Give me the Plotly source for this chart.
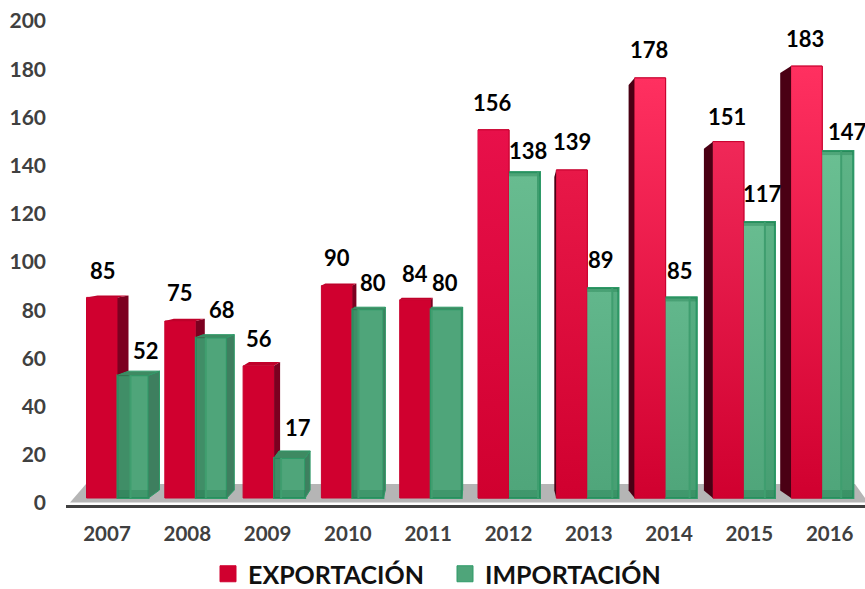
import plotly.graph_objects as go

years = ["2007","2008","2009","2010","2011","2012","2013","2014","2015","2016"]
exportacion = [85,75,56,90,84,156,139,178,151,183]
importacion = [52,68,17,80,80,138,89,85,117,147]
y_ticks = [0,20,40,60,80,100,120,140,160,180,200]

# layout constants (pixels)
W,H = 865,589
L,R,T,B = 66,865,8,505
PXX = 78.3      # bar group spacing
PXY = 2.36      # bar px per unit
LX = 80.3       # label spacing
X0 = 117.5
FONT = "Lato"
red_depth = [11,9,6,4,2,0,-2,-6,-9,-11]
green_depth = [11,7.5,5,2,1,-2,-6,-7,-10,-12]
green_inner = [13,10,7,6,1,-2,-6,-7,-10,-12]
n = len(years)
idx = list(range(n))
ux = 1/PXX; uy = 1/PXY

red_base = "#D0002F"
green_base = "#4FA57A"
red_top = ["#D0002F","#D0002F","#D0002F","#D0002F","#D0002F","#E8104A","#E81848","#FF3060","#F02858","#FF3060"]
green_top = ["#4FA57A","#4FA57A","#4FA57A","#4FA57A","#4FA57A","#68BC90","#62B78C","#62B78C","#68BC90","#6ABF92"]
RW, GW = 31/PXX, 31/PXX
GB = "#2F9A68"

fig = go.Figure()

def poly(xs, ys, color, line=None, grad=None, width=1):
    kw = {}
    if grad:
        kw["fillgradient"] = dict(type="vertical", colorscale=[[0, grad[0]], [1, grad[1]]])
    else:
        kw["fillcolor"] = color
    fig.add_trace(go.Scatter(x=xs, y=ys, xaxis="x2", yaxis="y2", mode="lines", fill="toself",
        line=dict(color=line or "rgba(0,0,0,0)", width=width), hoverinfo="skip", showlegend=False, **kw))

def dy_for(v):
    return max(2.0, 8.3-0.08*v)

# floor, under the bars
fx = [(70-X0)*ux, (86-X0)*ux, (855-X0)*ux, (865-X0)*ux, (865-X0)*ux]
fy = [-4.5*uy, 14*uy, 14*uy, 0, -4.5*uy]
floor_path = "M " + " L ".join(f"{a},{b}" for a, b in zip(fx, fy)) + " Z"
fig.add_shape(type="path", path=floor_path, xref="x2", yref="y2", fillcolor="#B5B5B5", line_width=0, layer="below")

# base bars (drawn by the library's bar scale)
fig.add_trace(go.Bar(x=idx, y=exportacion, xaxis="x2", yaxis="y2", width=RW, offset=-RW,
    marker=dict(color=red_base, line=dict(color="#C8002E", width=1)), showlegend=False, hoverinfo="skip"))
fig.add_trace(go.Bar(x=idx, y=importacion, xaxis="x2", yaxis="y2", width=GW, offset=0,
    marker=dict(color=green_base, line=dict(color=GB, width=2)), showlegend=False, hoverinfo="skip"))

# red faces
for i in idx:
    v = exportacion[i]; d = red_depth[i]; dy = dy_for(v)
    x0, x1 = i-RW, i
    if d > 0:
        g = importacion[i]
        poly([x1, x1+d*ux, x1+d*ux, x1], [v, v+dy*uy, g, g], "#7C0020")
        poly([x0, x0+d*ux, x1+d*ux, x1], [v, v+dy*uy, v+dy*uy, v], "#C0002A")
    elif d < 0:
        poly([x0, x0+d*ux, x0+d*ux, x0], [v, v-7*uy, 7.5*uy, 0], "#4A0014")
    if red_top[i] != red_base:
        poly([x0, x1, x1, x0], [0, 0, v, v], None, line="#C8002E", grad=(red_base, red_top[i]))

# green faces
for i in idx:
    v = importacion[i]; d = green_depth[i]; dy = dy_for(v); inn = green_inner[i]
    x0, x1 = i, i+GW
    if green_top[i] != green_base:
        poly([x0, x1, x1, x0], [0, 0, v, v], None, line=GB, grad=(green_base, green_top[i]), width=2)
    if d > 0:
        poly([x1, x1+d*ux, x1+d*ux, x1], [v, v+dy*uy, 8*uy, 0], "#3E7F5F", line=GB)
        poly([x0, x0+d*ux, x1+d*ux, x1], [v, v+dy*uy, v+dy*uy, v], "#3E8A62", line=GB)
        poly([x0, x0+inn*ux, x0+inn*ux, x0], [v, v, 0, 0], "rgba(30,90,60,0.30)")
        inner = x0+inn*ux
    else:
        inner = x1+inn*ux
        poly([x0, x1, x1, x0], [v, v, v-4*uy, v-4*uy], "rgba(30,120,75,0.35)")
        poly([inner, x1, x1, inner], [0, 0, v, v], "rgba(30,120,75,0.15)")
    poly([x0, x1, x1, x0], [0, 0, 8*uy, 8*uy], "rgba(30,120,75,0.30)")
    fig.add_trace(go.Scatter(x=[inner, inner], y=[0, v], xaxis="x2", yaxis="y2",
        mode="lines", line=dict(color="#3F9E6F", width=2), hoverinfo="skip", showlegend=False))

# legend
fig.add_trace(go.Scatter(x=[None], y=[None], mode="markers", name="EXPORTACIÓN", legend="legend",
    marker=dict(symbol="square", size=16, color=red_base, line=dict(color=red_base, width=1))))
fig.add_trace(go.Scatter(x=[None], y=[None], mode="markers", name="IMPORTACIÓN", legend="legend2",
    marker=dict(symbol="square", size=16, color=green_base, line=dict(color=GB, width=1))))

# data labels
exp_shift = [1,0,0,0,0,-1,0,-1,-1,-2]
imp_shift = [13,11,8,5,-1,3,-2,-1,3,10]
imp_up    = [25,28,30,27,27,22,28,27,28,20]
exp_up    = [27,29,27,28,26,27,28,28,25,28]
annos = []
for i in idx:
    annos.append(dict(x=i-RW/2, y=exportacion[i], xref="x2", yref="y2", text=f"<b>{exportacion[i]}</b>", showarrow=False,
        xshift=exp_shift[i], yshift=exp_up[i], font=dict(family=FONT, size=22, color="#000")))
    annos.append(dict(x=i+GW/2, y=importacion[i], xref="x2", yref="y2", text=f"<b>{importacion[i]}</b>", showarrow=False,
        xshift=imp_shift[i], yshift=imp_up[i], font=dict(family=FONT, size=22, color="#000")))

lf = dict(family=FONT, size=25, color="#111", weight="bold")
def leg(px):
    return dict(orientation="h", xref="container", yref="container", x=px/W, xanchor="left",
        y=1-574/H, yanchor="middle", font=lf, itemsizing="trace", itemclick=False, itemdoubleclick=False, bgcolor="rgba(0,0,0,0)")

fig.update_layout(
    width=W, height=H, autosize=False, paper_bgcolor="white", plot_bgcolor="white",
    margin=dict(l=L, r=W-R, t=T, b=H-B, pad=0),
    barmode="overlay", showlegend=True, annotations=annos,
    font=dict(family=FONT, color="#404040"),
    xaxis=dict(range=[(L-107)/LX, (R-107)/LX], tickmode="array", tickvals=idx, ticktext=[f"<b>{y}</b>" for y in years],
        showgrid=False, zeroline=False, showline=True, linecolor="#404040", linewidth=3, ticks="",
        tickfont=dict(size=20.5, color="#404040"), ticklabelstandoff=8),
    yaxis=dict(range=[-(B-503)/2.41, (503-T)/2.41], tickmode="array", tickvals=y_ticks, ticktext=[f"<b>{t}</b>" for t in y_ticks],
        showgrid=False, zeroline=False, showline=False, ticks="", tickfont=dict(size=21, color="#404040"), ticklabelstandoff=19),
    xaxis2=dict(range=[(L-X0)/PXX, (R-X0)/PXX], overlaying="x", visible=False, anchor="y2"),
    yaxis2=dict(range=[-(B-498)/PXY, (498-T)/PXY], overlaying="y", visible=False, anchor="x2"),
    legend=leg(208), legend2=leg(445),
)
fig.write_html("out.html", config={"displayModeBar": False}, post_script="document.body.style.margin='0';")
